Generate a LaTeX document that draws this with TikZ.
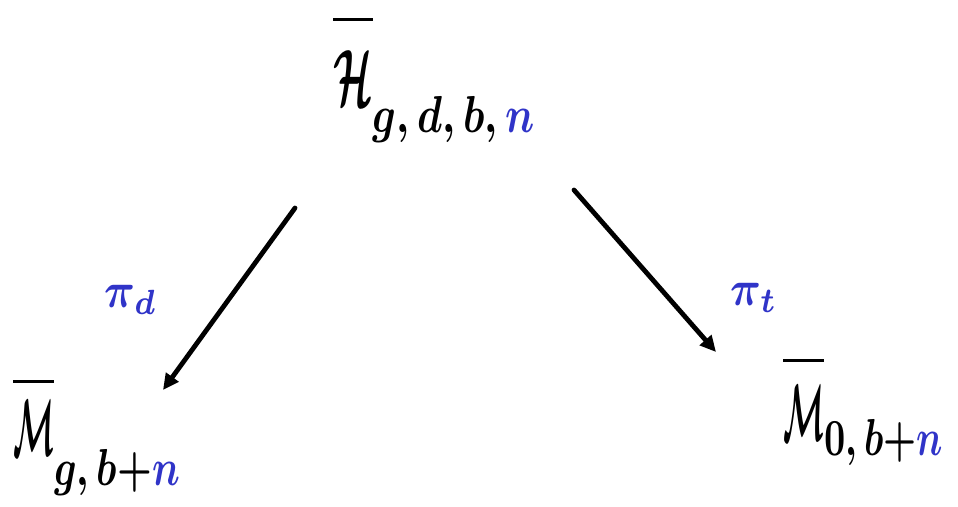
\documentclass[tikz,border=0pt]{standalone}
\usepackage{amsmath}
\usetikzlibrary{arrows.meta}
\definecolor{hblue}{RGB}{48,52,200}
\newcommand{\bigsym}[3]{\scalebox{#3}[8]{$\overline{#1\rule{0pt}{#2}}$}}
\newcommand{\subsym}[2]{\scalebox{#1}[5.2]{$#2$}}
\tikzset{
  lbl/.style={inner sep=0pt, outer sep=0pt, font=\boldmath},
  plbl/.style={inner sep=0pt, outer sep=0pt, text=hblue, font=\boldmath},
  arr/.style={line width=4.8pt, line cap=round, -{Triangle[length=16pt,width=15pt]}}
}
\begin{document}
\begin{tikzpicture}[x=1pt,y=-1pt]
\useasboundingbox (0,0) rectangle (958,506);
\node[lbl, anchor=base west] (H) at (333,105)
  {\bigsym{\mathcal{H}}{9.3pt}{4}\raisebox{-27pt}{\subsym{4.1}{g,d,b,\textcolor{hblue}{n}}}};
\node[lbl, anchor=base west] (Mg) at (13,455)
  {\bigsym{\mathcal{M}}{7.8pt}{3}\raisebox{-30pt}{\subsym{3.9}{g,b{+}\textcolor{hblue}{n}}}};
\node[lbl, anchor=base west] (M0) at (783,440)
  {\bigsym{\mathcal{M}}{8.5pt}{3}\raisebox{-15pt}{\subsym{3.7}{0,b{+}\textcolor{hblue}{n}}}};
\node[plbl] (pd) at (131,300) {\scalebox{4.3}[5]{$\pi_d$}};
\node[plbl] (pt) at (754,298) {\scalebox{4.3}[5]{$\pi_t$}};
\coordinate (a1) at (295,208);
\coordinate (b1) at (163,390);
\coordinate (a2) at (574,190);
\coordinate (b2) at (716,352);
\draw[arr] (a1) -- (b1);
\draw[arr] (a2) -- (b2);
\end{tikzpicture}
\end{document}
